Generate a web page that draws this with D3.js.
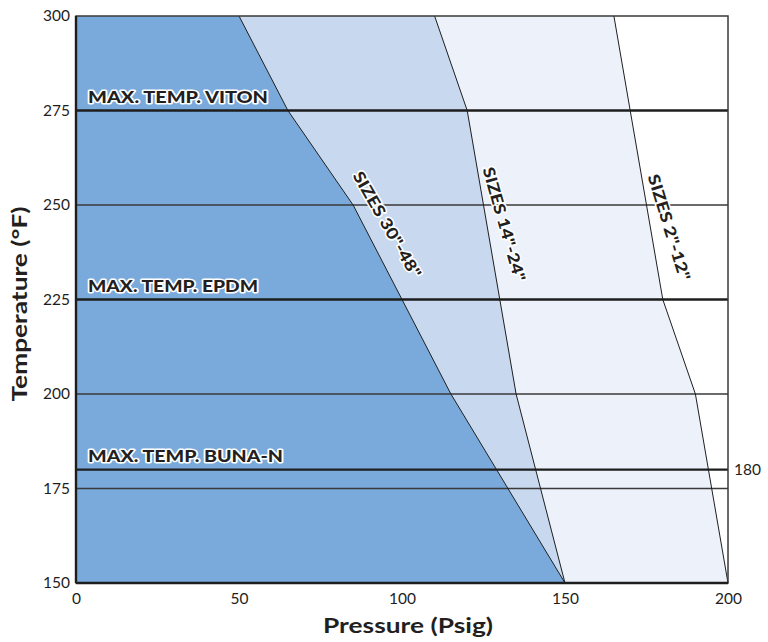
<!DOCTYPE html>
<html><head><meta charset="utf-8">
<script src="https://cdn.jsdelivr.net/npm/d3@7/dist/d3.min.js"></script>
<style>body{margin:0;background:#fff}svg{display:block}</style>
</head><body>
<svg id="c" width="768" height="642"></svg>
<script>
// Boundary curves: [pressure, temperature]
const size30_48 = [[50,300],[65,275],[85,250],[100,225],[115,200],[150,150]];
const size14_24 = [[110,300],[120,275],[130,225],[135,200],[150,150]];
const size2_12  = [[165,300],[170,275],[180,225],[190,200],[200,150]];
const xTicks = [0,50,100,150,200];
const yTicks = [150,175,200,225,250,275,300];
const thinLines = [175,200,250];
const maxTemps = [{t:275,label:"MAX. TEMP. VITON",w:180},{t:225,label:"MAX. TEMP. EPDM",w:170},{t:180,label:"MAX. TEMP. BUNA-N",w:195}];
const sizeLabels = [
  {p:95.4, t:244.8, rot:60, text:'SIZES 30"-48"', w:120},
  {p:131.3, t:244.9, rot:74, text:'SIZES 14"-24"', w:118},
  {p:181.9, t:244.1, rot:73, text:'SIZES 2"-12"', w:110}
];

const svg = d3.select("#c");
const L=76, T=16, R=728, B=583;
const x = d3.scaleLinear().domain([0,200]).range([L,R]);
const y = d3.scaleLinear().domain([150,300]).range([B,T]);
const font = "Lato, 'Open Sans', sans-serif";

function regionPath(leftPts, rightPts){
  const a = leftPts.map(d=>[x(d[0]),y(d[1])]);
  const b = rightPts.slice().reverse().map(d=>[x(d[0]),y(d[1])]);
  return "M"+a.concat(b).map(p=>p.join(",")).join("L")+"Z";
}
const leftEdge = [[0,300],[0,150]];
svg.append("rect").attr("x",L).attr("y",T).attr("width",R-L).attr("height",B-T).attr("fill","#ffffff");
svg.append("path").attr("d",regionPath(size14_24, size2_12)).attr("fill","#ecf1fa");
svg.append("path").attr("d",regionPath(size30_48, size14_24)).attr("fill","#c8d8ee");
svg.append("path").attr("d",regionPath(leftEdge, size30_48)).attr("fill","#7aaadb");

// grid lines
svg.selectAll(".thin").data(thinLines).enter().append("line")
  .attr("x1",L).attr("x2",R).attr("y1",d=>y(d)).attr("y2",d=>y(d))
  .attr("stroke","#3a3a3a").attr("stroke-width",1.3);
svg.selectAll(".thick").data(maxTemps).enter().append("line")
  .attr("x1",L).attr("x2",R).attr("y1",d=>y(d.t)).attr("y2",d=>y(d.t))
  .attr("stroke","#1e1e1e").attr("stroke-width",2.4);

// curves
const line = d3.line().x(d=>x(d[0])).y(d=>y(d[1]));
[size30_48,size14_24,size2_12].forEach(c=>{
  svg.append("path").attr("d",line(c)).attr("fill","none").attr("stroke","#1e1e1e").attr("stroke-width",1);
});

// frame
svg.append("rect").attr("x",L).attr("y",T).attr("width",R-L).attr("height",B-T)
  .attr("fill","none").attr("stroke","#3a3a3a").attr("stroke-width",1.5);
svg.append("line").attr("x1",L).attr("x2",L).attr("y1",T).attr("y2",B).attr("stroke","#1e1e1e").attr("stroke-width",2.4);
svg.append("line").attr("x1",L).attr("x2",R).attr("y1",B).attr("y2",B).attr("stroke","#1e1e1e").attr("stroke-width",2.4);

// axes
const yAxis = d3.axisLeft(y).tickValues(yTicks).tickSize(0).tickPadding(6);
const gy = svg.append("g").attr("transform",`translate(${L},0)`).call(yAxis);
const xAxis = d3.axisBottom(x).tickValues(xTicks).tickSize(0).tickPadding(10);
const gx = svg.append("g").attr("transform",`translate(0,${B})`).call(xAxis);
[gx,gy].forEach(g=>{
  g.select(".domain").remove();
  g.selectAll("text").attr("font-family",font).attr("font-size",15.5).attr("fill","#1e1e1e");
});

// right 180 label
svg.append("text").attr("x",R+6).attr("y",y(180)).attr("dy","0.35em")
  .attr("font-family",font).attr("font-size",15.5).attr("fill","#1e1e1e").text("180");

// max temp labels
svg.selectAll(".mt").data(maxTemps).enter().append("text")
  .attr("x",L+12).attr("y",d=>y(d.t)-8)
  .attr("font-family",font).attr("font-weight",900).attr("font-size",16)
  .attr("textLength",d=>d.w).attr("lengthAdjust","spacingAndGlyphs")
  .attr("fill","#231f20").attr("stroke","#ffffff").attr("stroke-width",3)
  .attr("paint-order","stroke").attr("stroke-linejoin","round")
  .text(d=>d.label);

// size labels
svg.selectAll(".sz").data(sizeLabels).enter().append("text")
  .attr("transform",d=>`translate(${x(d.p)},${y(d.t)}) rotate(${d.rot})`)
  .attr("text-anchor","middle").attr("dy","0.35em")
  .attr("font-family",font).attr("font-weight",900).attr("font-size",16)
  .attr("textLength",d=>d.w).attr("lengthAdjust","spacingAndGlyphs")
  .attr("fill","#231f20").attr("stroke","#ffffff").attr("stroke-width",3)
  .attr("paint-order","stroke").attr("stroke-linejoin","round")
  .text(d=>d.text);

// axis titles
svg.append("text").attr("x",408).attr("y",633).attr("text-anchor","middle")
  .attr("font-family",font).attr("font-weight",700).attr("font-size",20).attr("fill","#231f20")
  .attr("textLength",170).attr("lengthAdjust","spacingAndGlyphs")
  .text("Pressure (Psig)");
svg.append("text").attr("transform","translate(27,304) rotate(-90)").attr("text-anchor","middle")
  .attr("font-family",font).attr("font-weight",700).attr("font-size",20).attr("fill","#231f20")
  .attr("textLength",195).attr("lengthAdjust","spacingAndGlyphs")
  .text("Temperature (°F)");
</script>
</body></html>
